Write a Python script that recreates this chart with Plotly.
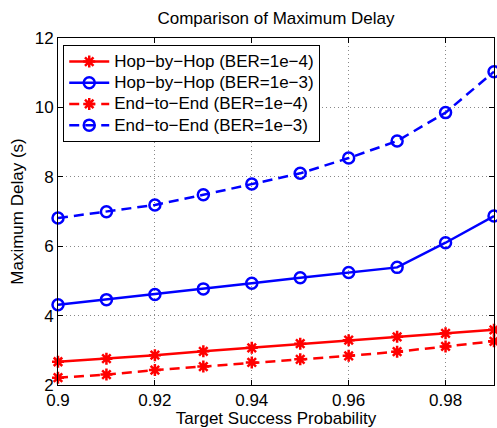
import plotly.graph_objects as go

prob = [0.90, 0.91, 0.92, 0.93, 0.94, 0.95, 0.96, 0.97, 0.98, 0.99]
hbh_1e4 = [2.67, 2.76, 2.86, 2.97, 3.07, 3.19, 3.29, 3.39, 3.49, 3.59]
hbh_1e3 = [4.31, 4.46, 4.61, 4.77, 4.93, 5.09, 5.24, 5.39, 6.10, 6.87]
e2e_1e4 = [2.21, 2.30, 2.43, 2.53, 2.65, 2.74, 2.84, 2.96, 3.11, 3.26]
e2e_1e3 = [6.81, 6.99, 7.19, 7.48, 7.79, 8.10, 8.54, 9.03, 9.85, 11.03]

names = ["Hop−by−Hop (BER=1e−4)", "Hop−by−Hop (BER=1e−3)",
         "End−to−End (BER=1e−4)", "End−to−End (BER=1e−3)"]

FONT = "Liberation Sans, Arial, sans-serif"
RED = "#ff0000"
BLUE = "#0000ff"

fig = go.Figure()
specs = [
    (hbh_1e4, names[0], RED, "solid", "asterisk-open", 10),
    (hbh_1e3, names[1], BLUE, "solid", "circle-open", 11),
    (e2e_1e4, names[2], RED, "10px,6px", "asterisk-open", 10),
    (e2e_1e3, names[3], BLUE, "10px,6px", "circle-open", 11),
]
for ys, nm, col, dash, sym, sz in specs:
    fig.add_trace(go.Scatter(
        x=prob, y=ys, name='<span style="font-size:17px">' + nm + '</span>',
        mode="lines+markers",
        line=dict(color=col, width=2.5, dash=dash),
        marker=dict(symbol=sym, size=sz, color=col, line=dict(color=col, width=2.5)),
        cliponaxis=False,
    ))

axis_common = dict(
    showline=True, linecolor="black", linewidth=1, mirror="ticks",
    ticks="inside", ticklen=5, tickcolor="black", tickwidth=1,
    showgrid=True, gridcolor="#888888", gridwidth=1, griddash="1px,3px",
    zeroline=False, automargin=False,
    tickfont=dict(family=FONT, size=17, color="black"),
)

fig.update_xaxes(range=[0.9, 0.99], tickvals=[0.9, 0.92, 0.94, 0.96, 0.98],
                 ticktext=["0.9", "0.92", "0.94", "0.96", "0.98"],
                 title=dict(text="Target Success Probability", standoff=1,
                            font=dict(family=FONT, size=17, color="black")),
                 **axis_common)
fig.update_yaxes(range=[2, 12], tickvals=[2, 4, 6, 8, 10, 12],
                 title=dict(text="Maximum Delay (s)", standoff=6,
                            font=dict(family=FONT, size=17, color="black")),
                 **axis_common)

fig.update_layout(
    width=497, height=428,
    margin=dict(l=58, r=3, t=38, b=43),
    paper_bgcolor="white", plot_bgcolor="white",
    font=dict(family=FONT, size=17, color="black"),
    title=dict(text="Comparison of Maximum Delay", x=0.5, xref="paper",
               y=1 - 18 / 428, yref="container", yanchor="middle",
               automargin=False,
               font=dict(family=FONT, size=17, color="black")),
    legend=dict(x=0.012, y=0.98, xanchor="left", yanchor="top",
                bgcolor="white", bordercolor="black", borderwidth=1,
                font=dict(family=FONT, size=14, color="black"),
                tracegroupgap=0, itemwidth=40),
    showlegend=True,
)

fig.write_html("out.html",
               config={"displayModeBar": False},
               post_script="document.body.style.margin='0';document.body.style.overflow='hidden';")
